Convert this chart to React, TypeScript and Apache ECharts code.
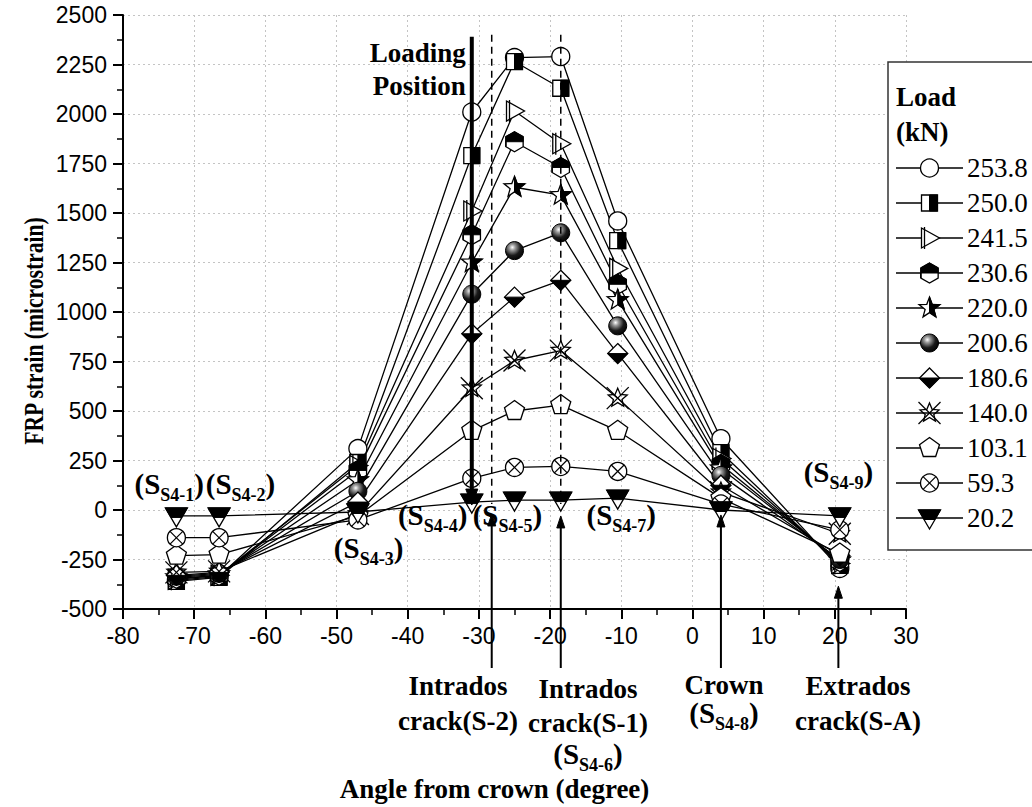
import React, { useEffect, useRef } from 'react';
import * as echarts from 'echarts';

const SERIF = '"Liberation Serif", "Times New Roman", serif';
const SANS = '"Liberation Sans", Arial, sans-serif';

// Sensor positions (angle from crown, degree)
const angles = [-72.5, -66.5, -47, -31, -25, -18.5, -10.5, 4, 20.7];
const loadLabels = ['253.8', '250.0', '241.5', '230.6', '220.0', '200.6', '180.6', '140.0', '103.1', '59.3', '20.2'];
const markerKinds = ['circle', 'halfSquare', 'triRight', 'halfHex', 'halfStar', 'ball', 'halfDiamond', 'xStar', 'pentagon', 'circleX', 'halfDownTri'];

// FRP strain (microstrain) per load level
const strain253_8 = [-355, -335, 310, 2010, 2285, 2290, 1460, 360, -295];
const strain250_0 = [-360, -340, 240, 1790, 2265, 2130, 1360, 290, -280];
const strain241_5 = [-350, -330, 225, 1510, 2015, 1850, 1220, 260, -270];
const strain230_6 = [-345, -330, 200, 1390, 1860, 1730, 1140, 230, -260];
const strain220_0 = [-340, -325, 150, 1250, 1630, 1590, 1060, 210, -255];
const strain200_6 = [-335, -320, 95, 1090, 1310, 1400, 930, 175, -250];
const strain180_6 = [-330, -315, 40, 890, 1075, 1160, 790, 125, -230];
const strain140_0 = [-315, -310, -20, 615, 755, 805, 565, 90, -120];
const strain103_1 = [-230, -225, -30, 400, 500, 530, 400, 60, -220];
const strain59_3 = [-140, -140, -50, 160, 215, 220, 195, 30, -100];
const strain20_2 = [-30, -30, -10, 40, 50, 50, 60, 0, -30];

const allStrains = [strain253_8, strain250_0, strain241_5, strain230_6, strain220_0, strain200_6, strain180_6, strain140_0, strain103_1, strain59_3, strain20_2];

const yTicks = { min: -500, max: 2500, interval: 250 };
const xTicks = { min: -80, max: 30, interval: 10 };

let measureCtx: CanvasRenderingContext2D | null = null;
function textWidth(text: string, size: number, bold: boolean) {
  if (!measureCtx) measureCtx = document.createElement('canvas').getContext('2d');
  if (!measureCtx) return text.length * size * 0.5;
  measureCtx.font = `${bold ? 'bold ' : ''}${size}px "Liberation Serif"`;
  return measureCtx.measureText(text).width;
}

function starPts(cx: number, cy: number, R: number, r: number) {
  const pts: number[][] = [];
  for (let i = 0; i < 10; i++) {
    const a = -Math.PI / 2 + (i * Math.PI) / 5;
    const rr = i % 2 === 0 ? R : r;
    pts.push([cx + rr * Math.cos(a), cy + rr * Math.sin(a)]);
  }
  return pts;
}
function polyPts(cx: number, cy: number, R: number, n: number, start: number) {
  const pts: number[][] = [];
  for (let i = 0; i < n; i++) {
    const a = start + (i * 2 * Math.PI) / n;
    pts.push([cx + R * Math.cos(a), cy + R * Math.sin(a)]);
  }
  return pts;
}

function marker(kind: string, cx: number, cy: number): any[] {
  const S = { stroke: '#000', lineWidth: 1.3 };
  const B = { fill: '#000', stroke: '#000', lineWidth: 1 };
  switch (kind) {
    case 'circle':
      return [{ type: 'circle', shape: { cx, cy, r: 9 }, style: { ...S, fill: '#fff' } }];
    case 'halfSquare':
      return [
        { type: 'rect', shape: { x: cx - 8, y: cy - 8, width: 16, height: 16 }, style: { ...S, fill: '#fff' } },
        { type: 'rect', shape: { x: cx, y: cy - 8, width: 8, height: 16 }, style: B },
      ];
    case 'triRight':
      return [
        { type: 'polygon', shape: { points: [[cx - 8, cy - 10], [cx + 10, cy], [cx - 8, cy + 10]] }, style: { ...S, fill: '#fff' } },
        { type: 'line', shape: { x1: cx - 5, y1: cy - 11, x2: cx - 5, y2: cy + 11 }, style: { stroke: '#000', lineWidth: 1.3 } },
      ];
    case 'halfHex': {
      const h = polyPts(cx, cy, 10, 6, -Math.PI / 2);
      return [
        { type: 'polygon', shape: { points: h }, style: { ...S, fill: '#fff' } },
        { type: 'polygon', shape: { points: [[h[4][0], cy], h[4], h[5], h[0], h[1], [h[1][0], cy]] }, style: B },
      ];
    }
    case 'halfStar': {
      const s = starPts(cx, cy, 11, 4.6);
      return [
        { type: 'polygon', shape: { points: s }, style: { ...S, fill: '#fff' } },
        { type: 'polygon', shape: { points: [s[0], s[1], s[2], s[3], s[4], s[5]] }, style: B },
      ];
    }
    case 'ball':
      return [
        {
          type: 'circle',
          shape: { cx, cy, r: 9 },
          style: {
            stroke: '#000',
            lineWidth: 1,
            fill: new echarts.graphic.RadialGradient(0.38, 0.32, 0.75, [
              { offset: 0, color: '#ffffff' },
              { offset: 0.22, color: '#9a9a9a' },
              { offset: 0.6, color: '#1a1a1a' },
              { offset: 1, color: '#000000' },
            ]),
          },
        },
      ];
    case 'halfDiamond':
      return [
        { type: 'polygon', shape: { points: [[cx, cy - 10], [cx + 10, cy], [cx, cy + 10], [cx - 10, cy]] }, style: { ...S, fill: '#fff' } },
        { type: 'polygon', shape: { points: [[cx - 10, cy], [cx + 10, cy], [cx, cy + 10]] }, style: B },
      ];
    case 'xStar':
      return [
        { type: 'polygon', shape: { points: starPts(cx, cy, 10, 4.5) }, style: { ...S, fill: 'rgba(255,255,255,0)' } },
        { type: 'line', shape: { x1: cx - 11, y1: cy - 11, x2: cx + 11, y2: cy + 11 }, style: { stroke: '#000', lineWidth: 1.3 } },
        { type: 'line', shape: { x1: cx + 11, y1: cy - 11, x2: cx - 11, y2: cy + 11 }, style: { stroke: '#000', lineWidth: 1.3 } },
      ];
    case 'pentagon':
      return [{ type: 'polygon', shape: { points: polyPts(cx, cy, 10.5, 5, -Math.PI / 2) }, style: { ...S, fill: '#fff' } }];
    case 'circleX':
      return [
        { type: 'circle', shape: { cx, cy, r: 9 }, style: { ...S, fill: '#fff' } },
        { type: 'line', shape: { x1: cx - 6.4, y1: cy - 6.4, x2: cx + 6.4, y2: cy + 6.4 }, style: { stroke: '#000', lineWidth: 1.2 } },
        { type: 'line', shape: { x1: cx + 6.4, y1: cy - 6.4, x2: cx - 6.4, y2: cy + 6.4 }, style: { stroke: '#000', lineWidth: 1.2 } },
      ];
    case 'halfDownTri':
    default:
      return [
        { type: 'polygon', shape: { points: [[cx - 11, cy - 8], [cx + 11, cy - 8], [cx, cy + 11]] }, style: { ...S, fill: '#fff' } },
        { type: 'polygon', shape: { points: [[cx - 11, cy - 8], [cx + 11, cy - 8], [cx + 5.5, cy + 1.5], [cx - 5.5, cy + 1.5]] }, style: B },
      ];
  }
}

function txt(text: string, x: number, y: number, size: number, bold: boolean, align: string, z = 20): any {
  return {
    type: 'text',
    x,
    y,
    z,
    style: {
      text,
      fontFamily: SERIF,
      fontWeight: bold ? 'bold' : 'normal',
      fontSize: size,
      lineHeight: size,
      fill: '#000',
      align,
      verticalAlign: 'middle',
    },
  };
}

// "(S" + subscript id + ")" centred at (cx, cy)
function sensorLabel(id: string, cx: number, cy: number): any[] {
  const big = 29;
  const sub = 18;
  const w1 = textWidth('(S', big, true);
  const w2 = textWidth(id, sub, true);
  const w3 = textWidth(')', big, true);
  const x0 = cx - (w1 + w2 + w3) / 2;
  return [
    txt('(S', x0, cy, big, true, 'left'),
    txt(id, x0 + w1, cy + 11, sub, true, 'left'),
    txt(')', x0 + w1 + w2, cy, big, true, 'left'),
  ];
}

function arrow(x: number, yFrom: number, yTip: number, lw: number, hw: number, hl: number): any[] {
  const dir = yTip > yFrom ? 1 : -1;
  const base = yTip - dir * hl;
  return [
    { type: 'line', z: 15, shape: { x1: x, y1: yFrom, x2: x, y2: base }, style: { stroke: '#000', lineWidth: lw } },
    { type: 'polygon', z: 15, shape: { points: [[x - hw / 2, base], [x + hw / 2, base], [x, yTip]] }, style: { fill: '#000', stroke: '#000', lineWidth: 1 } },
  ];
}

export default function App() {
  const ref = useRef<HTMLDivElement>(null);

  useEffect(() => {
    if (!ref.current) return;
    const chart = echarts.init(ref.current, undefined, { renderer: 'svg' });

    const lineSeries = allStrains.map((vals, i) => ({
      name: loadLabels[i],
      type: 'line',
      data: angles.map((a, j) => [a, vals[j]]),
      symbol: 'none',
      lineStyle: { color: '#000', width: 1.3 },
      z: 2,
      silent: true,
    }));

    const markerSeries = allStrains.map((vals, i) => ({
      name: loadLabels[i] + ' markers',
      type: 'custom',
      data: angles.map((a, j) => [a, vals[j]]),
      encode: { x: 0, y: 1 },
      z: 3 + i * 0.01,
      clip: false,
      silent: true,
      renderItem: (_p: any, api: any) => {
        const pt = api.coord([api.value(0), api.value(1)]);
        return { type: 'group', children: marker(markerKinds[i], pt[0], pt[1]) };
      },
    }));

    const axisCommon = {
      axisLine: { onZero: false, lineStyle: { color: '#000', width: 2 } },
      axisTick: { length: 10, lineStyle: { color: '#000', width: 2 } },
      minorTick: { show: true, splitNumber: 2, length: 6, lineStyle: { color: '#000', width: 1.5 } },
      splitLine: { show: true, lineStyle: { color: '#c4c4c4', type: [2, 3], width: 1 } },
      minorSplitLine: { show: false },
    };

    chart.setOption({
      animation: false,
      backgroundColor: '#fff',
      grid: { left: 123, right: 126, top: 15, bottom: 195 },
      xAxis: {
        type: 'value',
        min: xTicks.min,
        max: xTicks.max,
        interval: xTicks.interval,
        ...axisCommon,
        axisLabel: { color: '#000', fontFamily: SANS, fontSize: 23, margin: 15, formatter: (v: number) => String(v) },
        name: 'Angle from crown (degree)',
        nameLocation: 'middle',
        nameGap: 166,
        nameTextStyle: { fontFamily: SERIF, fontWeight: 'bold', fontSize: 27, color: '#000', padding: [0, 40, 0, 0] },
      },
      yAxis: {
        type: 'value',
        min: yTicks.min,
        max: yTicks.max,
        interval: yTicks.interval,
        ...axisCommon,
        axisLabel: { color: '#000', fontFamily: SANS, fontSize: 23, margin: 16, formatter: (v: number) => String(v) },
      },
      series: [...lineSeries, ...markerSeries],
    });

    const px = (x: number, y: number) => chart.convertToPixel({ xAxisIndex: 0, yAxisIndex: 0 }, [x, y]) as number[];

    const g: any[] = [];

    // Y axis title (slightly condensed, as in the reference)
    g.push({
      type: 'text',
      x: 34,
      y: 331,
      rotation: Math.PI / 2,
      scaleX: 0.8,
      z: 20,
      style: {
        text: 'FRP strain (microstrain)',
        fontFamily: SERIF,
        fontWeight: 'bold',
        fontSize: 27,
        fill: '#000',
        align: 'center',
        verticalAlign: 'middle',
      },
    });

    // Loading position arrow
    const lp = px(-31, 2390);
    const lpTip = px(-31, 25);
    g.push(...arrow(lp[0], lp[1], lpTip[1], 4, 12, 16));
    g.push(txt('Loading', lp[0] - 6, 53, 27, true, 'right'));
    g.push(txt('Position', lp[0] - 6, 86, 27, true, 'right'));

    // Dashed crack lines
    [-28.2, -18.5].forEach((a) => {
      const t = px(a, 2400);
      const b = px(a, 30);
      g.push({ type: 'line', z: 15, shape: { x1: t[0], y1: t[1], x2: b[0], y2: b[1] }, style: { stroke: '#000', lineWidth: 1.5, lineDash: [7, 5] } });
    });

    // Arrows from bottom annotations
    const arrowDefs = [
      { a: -28.2, tip: -20 },
      { a: -18.5, tip: -30 },
      { a: 4, tip: -25 },
      { a: 20.5, tip: -385 },
    ];
    arrowDefs.forEach((d) => {
      const t = px(d.a, d.tip);
      g.push(...arrow(t[0], 668, t[1], 2, 8, 12));
    });

    // Sensor labels
    const labelPos: [string, number, number][] = [
      ['S4-1', -73.5, 100],
      ['S4-2', -63.5, 100],
      ['S4-3', -45.5, -220],
      ['S4-4', -36.5, -55],
      ['S4-5', -26, -55],
      ['S4-7', -10, -55],
      ['S4-9', 20.5, 160],
    ];
    labelPos.forEach(([id, a, v]) => {
      const p = px(a, v);
      g.push(...sensorLabel(id, p[0], p[1] - 6));
    });

    // Bottom annotations
    g.push(txt('Intrados', 458, 686, 27, true, 'center'));
    g.push(txt('crack(S-2)', 458, 721, 27, true, 'center'));
    g.push(txt('Intrados', 588, 689, 27, true, 'center'));
    g.push(txt('crack(S-1)', 588, 723, 27, true, 'center'));
    g.push(...sensorLabel('S4-6', 588, 754));
    g.push(txt('Crown', 724, 685, 27, true, 'center'));
    g.push(...sensorLabel('S4-8', 724, 713));
    g.push(txt('Extrados', 858, 686, 27, true, 'center'));
    g.push(txt('crack(S-A)', 858, 721, 27, true, 'center'));

    // Legend
    const rowGap = 35;
    g.push({ type: 'rect', z: 30, shape: { x: 888, y: 62, width: 200, height: 118 + rowGap * 10 + 20 }, style: { fill: '#fff', stroke: '#333', lineWidth: 1.5 } });
    g.push(txt('Load', 896, 97, 27, true, 'left', 31));
    g.push(txt('(kN)', 896, 132, 27, true, 'left', 31));
    loadLabels.forEach((lbl, i) => {
      const y = 168 + rowGap * i;
      g.push({ type: 'line', z: 31, shape: { x1: 896, y1: y, x2: 963, y2: y }, style: { stroke: '#000', lineWidth: 1.3 } });
      g.push({ type: 'group', z: 32, children: marker(markerKinds[i], 929.5, y).map((e) => ({ ...e, z: 32 })) });
      g.push(txt(lbl, 967, y, 27, false, 'left', 31));
    });

    chart.setOption({ graphic: g });

    return () => chart.dispose();
  }, []);

  return <div ref={ref} style={{ position: 'absolute', left: 0, top: 0, width: 1032, height: 807 }} />;
}
